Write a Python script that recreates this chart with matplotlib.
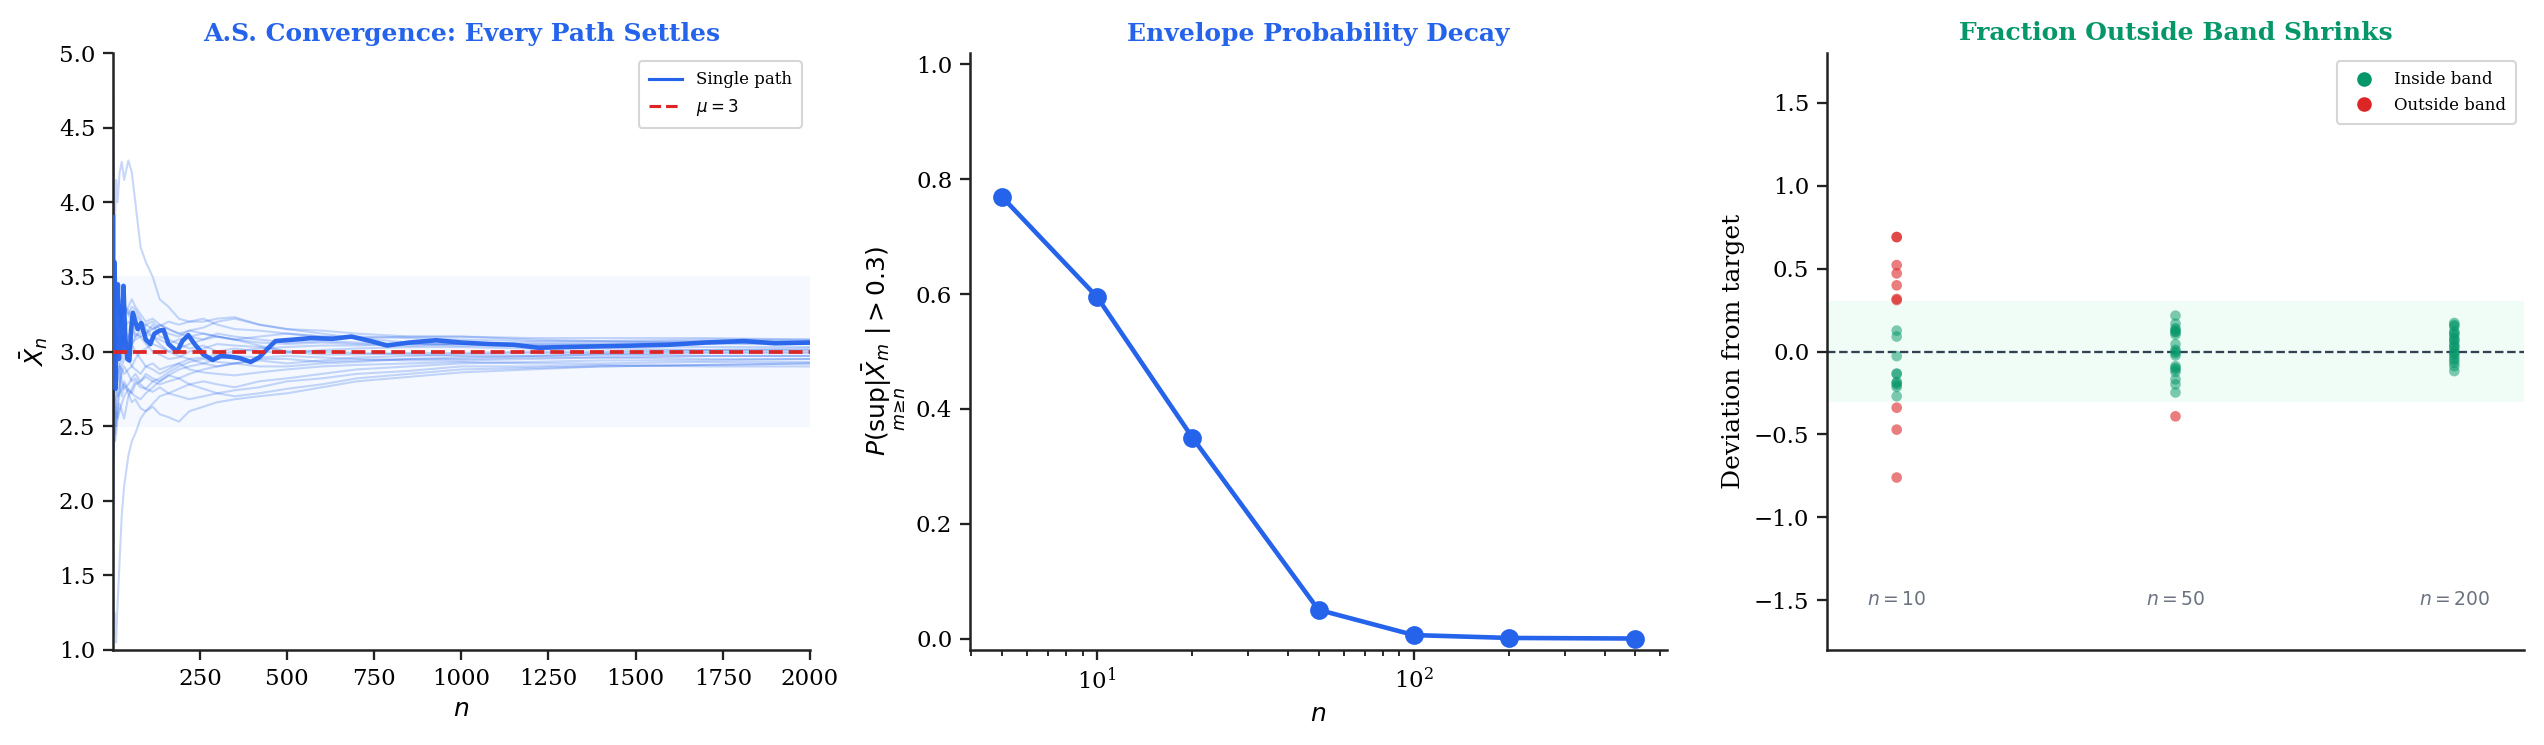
import numpy as np
import matplotlib
matplotlib.use("Agg")
import matplotlib.pyplot as plt
from matplotlib.lines import Line2D

plt.rcParams['font.family'] = ['DejaVu Serif']
plt.rcParams['mathtext.fontset'] = 'dejavusans'

BLUE = '#2563eb'
RED = '#dc2626'
GREEN = '#059669'

# ---------------- Panel 1 data: running means of sample paths ----------------
path_n = [1, 2, 3, 5, 7, 10, 14, 20, 26, 33,
          45, 55, 65, 80, 95, 115, 135, 160, 190, 220,
          260, 300, 350, 420, 500, 600, 700, 850, 1000, 1200,
          1400, 1700, 2000]
path_a = [4.8, 4.4, 4.0, 3.7, 3.9, 4.15, 4.0, 4.2, 4.27, 4.15,
          4.28, 4.2, 4.0, 3.7, 3.6, 3.5, 3.35, 3.3, 3.22, 3.2,
          3.2, 3.22, 3.23, 3.18, 3.15, 3.14, 3.12, 3.1, 3.1, 3.08,
          3.07, 3.06, 3.05]
path_b = [2.2, 2.6, 2.9, 3.1, 2.95, 2.85, 2.9, 2.8, 2.7, 2.78,
          2.72, 2.66, 2.68, 2.62, 2.6, 2.63, 2.58, 2.56, 2.53, 2.6,
          2.63, 2.66, 2.68, 2.7, 2.72, 2.76, 2.8, 2.83, 2.86, 2.88,
          2.9, 2.91, 2.92]
path_c = [1.6, 1.3, 1.1, 1.25, 1.15, 1.05, 1.3, 1.6, 1.9, 2.1,
          2.3, 2.4, 2.45, 2.55, 2.6, 2.65, 2.7, 2.72, 2.75, 2.78,
          2.8, 2.78, 2.76, 2.8, 2.82, 2.85, 2.88, 2.9, 2.92, 2.93,
          2.94, 2.94, 2.95]
path_d = [5.0, 4.3, 3.7, 3.4, 3.55, 3.3, 3.45, 3.3, 3.2, 3.3,
          3.25, 3.2, 3.15, 3.2, 3.12, 3.18, 3.1, 3.08, 3.05, 3.02,
          3.04, 3.0, 3.02, 3.0, 2.99, 3.01, 3.02, 3.03, 3.03, 3.02,
          3.02, 3.01, 3.01]
path_e = [3.8, 3.2, 3.4, 3.0, 2.8, 3.0, 3.1, 3.2, 3.25, 3.3,
          3.28, 3.22, 3.25, 3.2, 3.18, 3.15, 3.17, 3.2, 3.18, 3.2,
          3.22, 3.18, 3.15, 3.14, 3.12, 3.1, 3.1, 3.09, 3.08, 3.07,
          3.07, 3.08, 3.08]
path_f = [2.5, 2.9, 2.6, 2.4, 2.55, 2.7, 2.85, 2.9, 2.8, 2.75,
          2.78, 2.82, 2.85, 2.8, 2.83, 2.8, 2.78, 2.8, 2.82, 2.85,
          2.88, 2.9, 2.92, 2.95, 2.95, 2.93, 2.94, 2.95, 2.95, 2.96,
          2.96, 2.97, 2.97]
path_g = [3.3, 3.6, 3.1, 3.3, 3.45, 3.3, 3.2, 3.3, 3.35, 3.3,
          3.25, 3.3, 3.28, 3.22, 3.15, 3.1, 3.05, 3.0, 3.02, 3.05,
          3.08, 3.1, 3.08, 3.06, 3.05, 3.06, 3.05, 3.04, 3.05, 3.05,
          3.05, 3.06, 3.06]
path_h = [2.0, 2.4, 2.9, 3.2, 3.0, 2.85, 2.8, 2.9, 2.95, 3.0,
          2.95, 2.9, 2.88, 2.85, 2.9, 2.92, 2.88, 2.9, 2.92, 2.88,
          2.86, 2.85, 2.84, 2.86, 2.88, 2.9, 2.91, 2.92, 2.93, 2.92,
          2.92, 2.93, 2.93]
path_i = [3.6, 3.9, 3.4, 3.1, 3.3, 3.45, 3.35, 3.25, 3.1, 3.05,
          3.1, 3.15, 3.1, 3.12, 3.18, 3.2, 3.15, 3.12, 3.1, 3.14,
          3.16, 3.2, 3.22, 3.18, 3.15, 3.12, 3.09, 3.06, 3.05, 3.04,
          3.04, 3.05, 3.05]
path_j = [2.7, 2.3, 2.5, 2.6, 2.45, 2.55, 2.6, 2.75, 2.85, 2.9,
          2.85, 2.8, 2.82, 2.78, 2.75, 2.73, 2.76, 2.72, 2.7, 2.68,
          2.7, 2.72, 2.74, 2.76, 2.8, 2.82, 2.85, 2.87, 2.9, 2.9,
          2.91, 2.9, 2.9]
path_k = [4.2, 3.5, 3.0, 2.8, 2.9, 3.0, 3.1, 3.0, 3.05, 3.1,
          3.0, 3.05, 3.1, 3.15, 3.12, 3.1, 3.08, 3.05, 3.08, 3.1,
          3.12, 3.1, 3.08, 3.04, 3.0, 2.98, 2.98, 2.99, 2.99, 3.0,
          3.0, 3.01, 3.02]
path_l = [1.9, 2.2, 2.6, 2.5, 2.7, 2.6, 2.55, 2.65, 2.6, 2.55,
          2.7, 2.75, 2.8, 2.76, 2.75, 2.8, 2.82, 2.86, 2.9, 2.93,
          2.95, 2.93, 2.92, 2.9, 2.9, 2.92, 2.93, 2.95, 2.96, 2.97,
          2.98, 2.97, 2.97]
path_m = [3.1, 2.7, 2.9, 3.2, 3.1, 3.0, 2.95, 2.9, 2.88, 2.85,
          2.88, 2.9, 2.95, 3.0, 3.02, 3.05, 3.03, 3.0, 2.97, 2.95,
          2.96, 2.98, 3.0, 3.02, 3.03, 3.04, 3.04, 3.05, 3.05, 3.06,
          3.06, 3.07, 3.07]
path_o = [2.4, 2.8, 3.3, 3.0, 2.85, 2.75, 2.7, 2.72, 2.75, 2.8,
          2.74, 2.72, 2.7, 2.68, 2.72, 2.76, 2.8, 2.84, 2.82, 2.78,
          2.75, 2.72, 2.7, 2.72, 2.75, 2.78, 2.82, 2.85, 2.88, 2.89,
          2.9, 2.91, 2.92]
path_p = [3.5, 3.1, 2.8, 3.0, 3.2, 3.15, 3.05, 3.1, 3.05, 3.15,
          3.2, 3.18, 3.12, 3.1, 3.05, 3.0, 2.98, 2.95, 2.96, 3.0,
          3.02, 3.05, 3.04, 3.03, 3.0, 3.0, 2.99, 2.98, 2.97, 2.97,
          2.98, 2.99, 2.99]
path_q = [1.4, 1.7, 2.2, 2.5, 2.4, 2.45, 2.55, 2.6, 2.65, 2.7,
          2.75, 2.72, 2.78, 2.8, 2.85, 2.82, 2.8, 2.84, 2.88, 2.9,
          2.92, 2.95, 2.97, 2.96, 2.97, 2.96, 2.95, 2.94, 2.94, 2.95,
          2.96, 2.95, 2.95]
path_r = [3.9, 3.4, 3.6, 3.5, 3.3, 3.35, 3.25, 3.3, 3.2, 3.15,
          3.1, 3.05, 3.08, 3.1, 3.12, 3.15, 3.18, 3.15, 3.12, 3.1,
          3.08, 3.12, 3.1, 3.08, 3.06, 3.07, 3.06, 3.05, 3.04, 3.04,
          3.04, 3.03, 3.03]
path_s = [2.9, 3.3, 3.0, 2.7, 2.6, 2.5, 2.65, 2.8, 2.9, 2.95,
          3.0, 3.05, 3.0, 2.95, 2.9, 2.88, 2.85, 2.88, 2.92, 2.95,
          2.92, 2.9, 2.92, 2.94, 2.92, 2.94, 2.96, 2.97, 2.98, 2.99,
          2.99, 3.0, 3.0]
path_t = [3.2, 2.9, 3.5, 3.7, 3.4, 3.5, 3.4, 3.35, 3.3, 3.25,
          3.3, 3.35, 3.3, 3.25, 3.2, 3.22, 3.18, 3.15, 3.12, 3.14,
          3.12, 3.1, 3.08, 3.1, 3.12, 3.1, 3.09, 3.1, 3.1, 3.09,
          3.09, 3.09, 3.08]
background_paths = [path_a, path_b, path_c, path_d, path_e, path_f, path_g, path_h, path_i, path_j,
                    path_k, path_l, path_m, path_o, path_p, path_q, path_r, path_s, path_t]

single_n = [1, 2, 3, 4, 5, 6, 8, 10, 12, 15, 18, 22, 26, 31, 36, 42, 48, 53, 58, 65, 72, 82, 95,
            108, 120, 135, 146, 160, 175, 185, 200, 217, 235, 260, 287, 310, 338, 365, 396, 420,
            445, 467, 520, 570, 630, 685, 740, 787, 850, 928, 1000, 1082, 1150, 1222, 1300, 1401,
            1500, 1593, 1700, 1811, 1900, 2000]
single_xbar = [3.9, 2.8, 3.5, 3.0, 3.6, 3.2, 2.75, 3.3, 3.05, 3.45, 2.95, 3.3, 3.0, 3.44, 3.1, 2.95,
               2.94, 3.15, 3.26, 3.2, 3.15, 3.19, 3.08, 3.05, 3.12, 3.14, 3.145, 3.05, 3.02, 3.0,
               3.07, 3.11, 3.05, 2.98, 2.943, 2.97, 2.965, 2.955, 2.93, 2.96, 3.02, 3.07, 3.08,
               3.09, 3.085, 3.1, 3.07, 3.04, 3.06, 3.075, 3.06, 3.05, 3.045, 3.025, 3.03, 3.035,
               3.04, 3.045, 3.06, 3.07, 3.055, 3.06]
mu = 3.0
band_half = 0.5

# ---------------- Panel 2 data ----------------
env_n = [5, 10, 20, 50, 100, 200, 500]
env_prob = [0.77, 0.595, 0.35, 0.05, 0.006, 0.001, 0.0]

# ---------------- Panel 3 data ----------------
group_labels = ['$n=10$', '$n=50$', '$n=200$']
dev_n10 = [0.69, 0.69, 0.521, 0.471, 0.399, 0.317, 0.31, -0.339, -0.471, -0.76,
           0.126, 0.09, -0.028, -0.134, -0.134, -0.184, -0.19, -0.2, -0.214, -0.27]
dev_n50 = [0.216, 0.168, 0.14, 0.13, 0.12, 0.116, 0.102, 0.044, 0.01, 0.0, -0.01, -0.024,
           -0.088, -0.1, -0.108, -0.124, -0.168, -0.198, -0.247, -0.391]
dev_n200 = [0.172, 0.16, 0.152, 0.122, 0.11, 0.102, 0.082, 0.07, 0.062, 0.042, 0.03, 0.022,
            0.002, -0.01, -0.018, -0.038, -0.052, -0.068, -0.088, -0.118]
deviations = [dev_n10, dev_n50, dev_n200]
eps = 0.3

# ---------------- Figure ----------------
W, H = 2545, 745
fig = plt.figure(figsize=(W / 150, H / 150), dpi=150)
axw = 697 / W
bot = (H - 650) / H
axh = 597 / H
ax1 = fig.add_axes([113 / W, bot, axw, axh])
ax2 = fig.add_axes([970 / W, bot, axw, axh])
ax3 = fig.add_axes([1827 / W, bot, axw, axh])

for ax in (ax1, ax2, ax3):
    ax.spines['top'].set_visible(False)
    ax.spines['right'].set_visible(False)
    for s in ('left', 'bottom'):
        ax.spines[s].set_linewidth(1.2)
        ax.spines[s].set_color('#222222')
    ax.tick_params(labelsize=11, width=1.1, length=5, color='#222222')

# Panel 1
ax1.axhspan(mu - band_half, mu + band_half, color='#f5f9ff', zorder=0)
for p in background_paths:
    ax1.plot(path_n, p, color=BLUE, alpha=0.25, lw=1.0, zorder=1)
ax1.plot(single_n, single_xbar, color=BLUE, lw=2.2, alpha=0.95, zorder=3)
ax1.axhline(mu, color=RED, ls='--', lw=1.8, zorder=4)
ax1.set_xlim(1, 2000)
ax1.set_ylim(1, 5)
ax1.set_xlabel('$n$', fontsize=12)
ax1.set_ylabel(r'$\bar{X}_n$', fontsize=12)
ax1.set_title('A.S. Convergence: Every Path Settles', color=BLUE, fontweight='bold', fontsize=12)
h1 = [Line2D([], [], color=BLUE, lw=1.5), Line2D([], [], color=RED, ls='--', lw=1.5)]
ax1.legend(h1, ['Single path', r'$\mu=3$'], loc='upper right', fontsize=8,
           frameon=True, edgecolor='#cccccc', fancybox=True, borderpad=0.6)

# Panel 2
ax2.plot(env_n, env_prob, color=BLUE, lw=2.2, marker='o', markersize=8)
ax2.set_xscale('log')
ax2.set_ylim(-0.02, 1.02)
ax2.set_xlabel('$n$', fontsize=12)
ax2.set_ylabel(r'$P(\sup_{m\geq n}|\bar{X}_m\,| > 0.3)$', fontsize=12)
ax2.set_title('Envelope Probability Decay', color=BLUE, fontweight='bold', fontsize=12)
ax2.tick_params(which='minor', length=3, width=0.9, color='#222222')

# Panel 3
ax3.axhspan(-eps, eps, color='#effdf6', zorder=0)
ax3.axhline(0, color='#334155', ls='--', lw=1.1, zorder=1)
for i, devs in enumerate(deviations):
    d = np.array(devs)
    inside = np.abs(d) <= eps
    ax3.scatter(np.full(inside.sum(), i), d[inside], s=26, color=GREEN, alpha=0.5,
                edgecolors='none', zorder=3)
    ax3.scatter(np.full((~inside).sum(), i), d[~inside], s=26, color=RED, alpha=0.6,
                edgecolors='none', zorder=3)
    ax3.text(i, -1.5, group_labels[i], ha='center', va='center', fontsize=9,
             color='#6b7280')
ax3.set_xlim(-0.25, 2.25)
ax3.set_ylim(-1.8, 1.8)
ax3.set_xticks([])
ax3.set_ylabel('Deviation from target', fontsize=12)
ax3.set_title('Fraction Outside Band Shrinks', color=GREEN, fontweight='bold', fontsize=12)
h3 = [Line2D([], [], ls='none', marker='o', color=GREEN, markersize=6),
      Line2D([], [], ls='none', marker='o', color=RED, markersize=6)]
ax3.legend(h3, ['Inside band', 'Outside band'], loc='upper right', fontsize=8,
           frameon=True, edgecolor='#cccccc', fancybox=True, borderpad=0.6)

fig.savefig('out.png', dpi=150)
